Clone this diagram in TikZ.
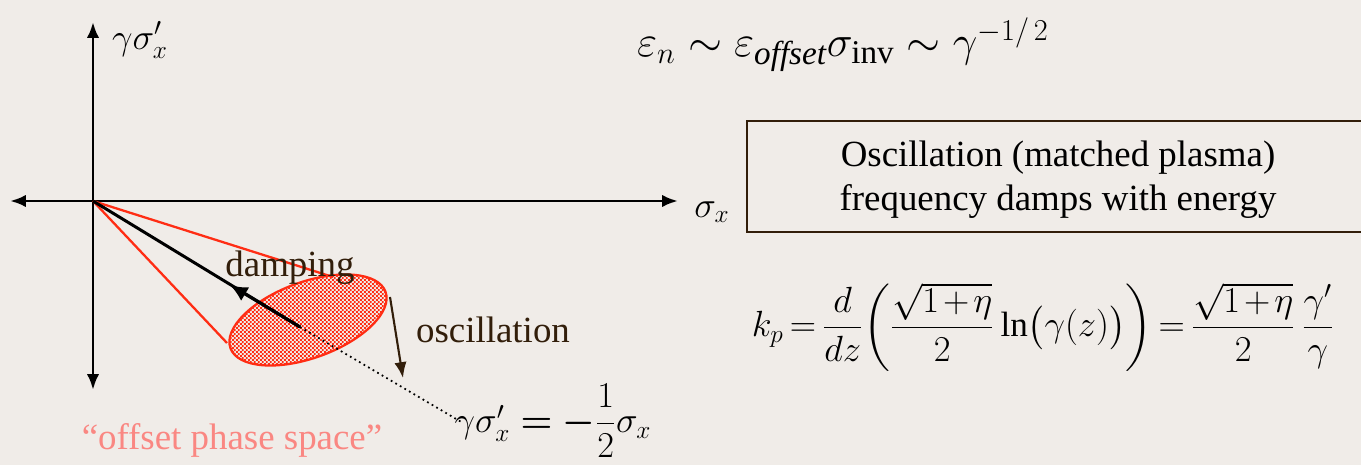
\documentclass[tikz,border=0pt]{standalone}
\usepackage{amsmath}
\usepackage{fontspec}
\setmainfont{Liberation Serif}
\usetikzlibrary{arrows.meta,shapes.geometric,patterns.meta}

\definecolor{slidebg}{RGB}{240,236,232}
\definecolor{beamred}{RGB}{255,45,20}
\definecolor{darkbrown}{RGB}{50,30,10}
\definecolor{salmon}{RGB}{250,135,130}

\newcommand{\bigtext}{\fontsize{21}{25}\selectfont}

\tikzdeclarepattern{
  name=finecheck, type=uncolored,
  bottom left={(0pt,0pt)}, top right={(2.2pt,2.2pt)}, tile size={(2.2pt,2.2pt)},
  code={
    \pgfpathrectangle{\pgfpoint{0pt}{0pt}}{\pgfpoint{1.1pt}{1.1pt}}
    \pgfpathrectangle{\pgfpoint{1.1pt}{1.1pt}}{\pgfpoint{1.1pt}{1.1pt}}
    \pgfusepath{fill}
  }
}

\tikzset{
  axis/.style={line width=1.7pt, -{Latex[length=9pt,width=7pt]}},
  edge/.style={beamred, line width=1.3pt},
  beam/.style={ellipse, draw=beamred, line width=1.3pt,
    pattern=finecheck, pattern color=beamred,
    minimum width=3.3cm, minimum height=1.52cm, inner sep=0pt, rotate=20},
  label/.style={inner sep=0pt, font=\bigtext},
  motion/.style={darkbrown, line width=1.2pt, -{Latex[length=9pt,width=7pt]}},
}

\begin{document}
\begin{tikzpicture}[x=0.02cm, y=-0.02cm]
    \fill[slidebg] (0,0) rectangle (1361,465);
    \useasboundingbox (0,0) rectangle (1361,465);

    % axes
    \coordinate (o) at (93,201);
    \coordinate (ytop) at (93,22);
    \coordinate (ybot) at (93,390);
    \coordinate (xleft) at (10,201);
    \coordinate (xright) at (678,201);
    \draw[axis] (o) -- (ytop);
    \draw[axis] (o) -- (ybot);
    \draw[axis] (o) -- (xleft);
    \draw[axis] (o) -- (xright);
    \node (ylab) at (140,40) [label] {$\gamma\sigma'_x$};
    \node (xlab) at (712,212) [label] {$\sigma_x$};

    % beam ellipse and its envelope
    \coordinate (up) at (333,277);
    \coordinate (lo) at (227,343);
    \draw[edge] (o) -- (up);
    \draw[edge] (o) -- (lo);
    \node (beam) at (308,320) [beam] {};

    % centroid line
    \coordinate (c) at (300,327);
    \coordinate (d) at (230,285);
    \coordinate (tail) at (463,423);
    \draw[line width=1.7pt] (o) -- (c);
    \draw[line width=1.7pt, -{Latex[length=10pt,width=9pt]}] (c) -- (d);
    \draw[line width=1pt, dotted] (c) -- (tail);

    % oscillation arrow
    \coordinate (s1) at (390,297);
    \coordinate (s2) at (403,378);
    \draw[motion] (s1) -- (s2);

    % labels
    \node (damp) at (290,268) [label, text=darkbrown] {damping};
    \node (osc) at (493,330) [label, text=darkbrown] {oscillation};
    \node (ops) at (232,440) [label, text=salmon] {``offset phase space''};
    \node (slope) at (553,421) [label] {$\gamma\sigma'_x \boldsymbol{=} \boldsymbol{-}\dfrac{1}{2}\sigma_x$};

    % emittance scaling
    \node (emit) at (843,45) [inner sep=0pt, font=\fontsize{27}{31}\selectfont]
        {$\varepsilon_n \sim \varepsilon_{\mathit{offset}}\sigma_{\mathrm{inv}} \sim \gamma^{-1/\,2}$};

    % text box
    \draw[darkbrown, line width=1.2pt] (1400,121) -- (747,121) -- (747,232) -- (1400,232);
    \node (note) at (1058,180) [label, align=center]
        {Oscillation (matched plasma)\\frequency damps with energy};

    % plasma wavenumber
    \node (kp) at (1043,327) [inner sep=0pt, font=\fontsize{20}{24}\selectfont]
        {$\thickmuskip=3mu \medmuskip=2mu
          k_p = \dfrac{d}{dz}\!\left(\dfrac{\sqrt{1+\eta}}{2}\ln\bigl(\gamma(z)\bigr)\right) = \dfrac{\sqrt{1+\eta}}{2}\,\dfrac{\gamma'}{\gamma}$};
\end{tikzpicture}
\end{document}
